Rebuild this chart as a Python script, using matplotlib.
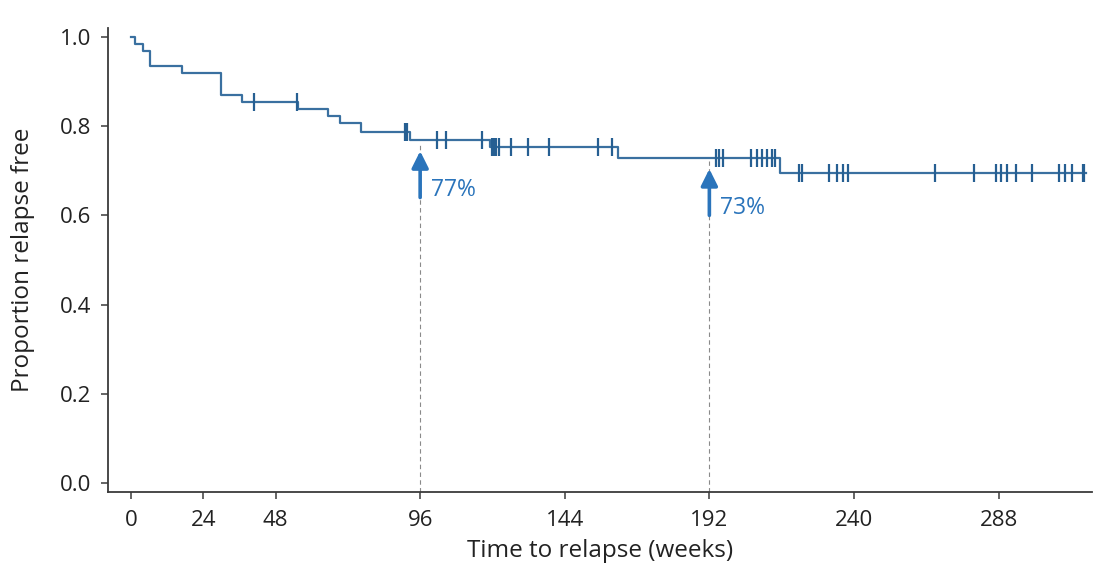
import numpy as np
import matplotlib
matplotlib.use("Agg")
import matplotlib.pyplot as plt

# ---- Kaplan-Meier steps (weeks, proportion relapse free) ----------------
event_weeks = [0, 1.5, 4, 6.3, 17, 30, 36.7, 55.6, 65.5, 69.3, 76.5, 92.6,
               119.1, 161.7, 215.3]
surv_level = [1.0, 0.985, 0.968, 0.935, 0.92, 0.87, 0.855, 0.838, 0.823,
              0.806, 0.786, 0.769, 0.753, 0.728, 0.694]
last_week = 317

# censored observations (weeks)
censor_weeks = [40.8, 55.0, 91.0, 91.6, 101.5, 104.7, 116.4, 119.9, 120.5,
                121.3, 122.2, 126.0, 131.8, 138.8, 155.0, 159.8, 194.1,
                195.2, 196.5, 205.9, 207.8, 209.6, 211.1, 212.9, 213.7,
                221.7, 222.6, 231.7, 234.3, 236.3, 238.0, 266.8, 280.0,
                287.0, 288.7, 290.7, 293.8, 299.2, 308.0, 309.9, 312.4,
                316.0, 316.5]

# landmark estimates marked with arrows
mark_weeks = [96, 192]
mark_values = [0.77, 0.73]
mark_labels = ["77%", "73%"]

xticks = [0, 24, 48, 96, 144, 192, 240, 288]
yticks = [0.0, 0.2, 0.4, 0.6, 0.8, 1.0]

plt.rcParams["font.family"] = ["Open Sans", "DejaVu Sans"]
line_col = "#3a70a0"
tick_col = "#265f92"
arrow_col = "#2a74bb"
axis_col = "#3a3a3a"

fig = plt.figure(figsize=(10.97, 5.64), dpi=100)
ax = fig.add_axes([0.0985, 0.1277, 0.8969, 0.8227])

# step curve
xs = list(event_weeks) + [last_week]
ys = list(surv_level) + [surv_level[-1]]
ax.step(xs, ys, where="post", color=line_col, lw=1.6, zorder=3)

# censor ticks sit on the curve level at their time
idx = np.searchsorted(event_weeks, censor_weeks, side="right") - 1
censor_y = np.array(surv_level)[idx]
ax.plot(censor_weeks, censor_y, ls="none", marker="|", markersize=13,
        markeredgewidth=1.6, color=tick_col, zorder=4)

# dashed guides + arrows
for wk, val, lab in zip(mark_weeks, mark_values, mark_labels):
    ax.plot([wk, wk], [-0.02, val - 0.008], ls=(0, (4, 3)), lw=0.8,
            color="#8a8a8a", zorder=1)
    ax.annotate("", xy=(wk, val - 0.026), xytext=(wk, val - 0.13),
                arrowprops=dict(arrowstyle="-|>", lw=2.6, color=arrow_col,
                                mutation_scale=25, shrinkA=0, shrinkB=0),
                zorder=5)
    ax.text(wk + 3.5, val - 0.113, lab, color=arrow_col, fontsize=16.5,
            ha="left", va="center")

ax.set_xlim(-7.6, 319)
ax.set_ylim(-0.02, 1.02)
ax.set_xticks(xticks)
ax.set_yticks(yticks)
ax.set_yticklabels([f"{v:.1f}" for v in yticks])

for side in ("top", "right"):
    ax.spines[side].set_visible(False)
for side in ("left", "bottom"):
    ax.spines[side].set_color(axis_col)
    ax.spines[side].set_linewidth(1.3)
ax.tick_params(axis="both", colors=axis_col, labelcolor="#222222",
               labelsize=16, length=5, width=1.1, direction="out")
ax.tick_params(axis="x", pad=8)
ax.tick_params(axis="y", pad=7)

ax.set_xlabel("Time to relapse (weeks)", fontsize=17.5, color="#222222",
              labelpad=6)
ax.set_ylabel("Proportion relapse free", fontsize=17.5, color="#222222",
              labelpad=18)

fig.savefig("out.png", dpi=100)
